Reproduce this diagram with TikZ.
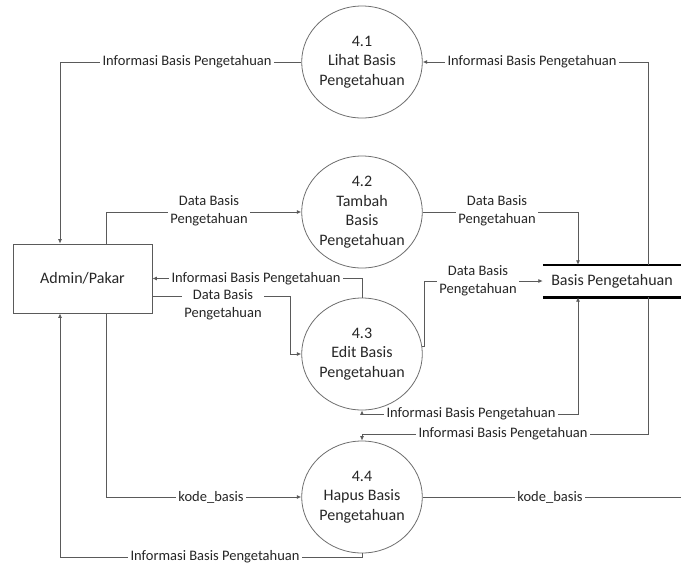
\documentclass[tikz,border=0pt]{standalone}
\usepackage{fontspec}
\setmainfont{Carlito}
\usetikzlibrary{arrows.meta,shapes.geometric}

\definecolor{linec}{HTML}{5A5A5A}
\definecolor{circc}{HTML}{6E6E6E}
\definecolor{textc}{HTML}{262626}

\tikzset{
  proc/.style={ellipse, draw=circc, line width=0.8pt, minimum width=112pt, minimum height=112pt,
    inner sep=0pt, align=center, text=textc, font=\fontsize{16}{19.5}\selectfont},
  entity/.style={rectangle, draw=linec, line width=0.8pt, minimum width=139pt, minimum height=69pt,
    inner sep=0pt, text=textc, font=\fontsize{16}{19.5}\selectfont},
  store/.style={rectangle, minimum width=138pt, minimum height=32pt, inner sep=0pt,
    text=textc, font=\fontsize{16}{19.5}\selectfont},
  bar/.style={line width=2.6pt, black},
  flow/.style={draw=linec, line width=0.8pt, -{Latex[length=4.5pt,width=4pt]}},
  flowboth/.style={draw=linec, line width=0.8pt, {Latex[length=4.5pt,width=4pt]}-{Latex[length=4.5pt,width=4pt]}},
  plain/.style={draw=linec, line width=0.8pt},
  lbl/.style={fill=white, inner xsep=2.5pt, inner ysep=0.5pt, align=center, text=textc,
    font=\fontsize{14.5}{17.5}\selectfont}
}

\begin{document}
\begin{tikzpicture}[x=1pt, y=-1pt]
\useasboundingbox (0,0) rectangle (681,566);

% processes
\node[proc] (c41) at (362,62)  {4.1\\Lihat Basis\\Pengetahuan};
\node[proc] (c42) at (362,212) {4.2\\Tambah\\Basis\\Pengetahuan};
\node[proc] (c43) at (362,354) {4.3\\Edit Basis\\Pengetahuan};
\node[proc] (c44) at (362,497) {4.4\\Hapus Basis\\Pengetahuan};

% external entity
\node[entity] (admin) at (82.5,278.5) {Admin/Pakar};

% data store
\node[store] (store) at (612,281) {Basis Pengetahuan};
\draw[bar] (store.north west) -- (store.north east);
\draw[bar] (store.south west) -- (store.south east);

% routing points
\coordinate (k3) at (424,281);
\coordinate (j3) at (290,354);
\coordinate (b3) at (578,414);
\coordinate (b4) at (648,434);
\coordinate (b5) at (362,557);
\coordinate (out) at (681,497);

% flows
\draw[flow] (c41.west) -| ([xshift=-22.5pt]admin.north);
\draw[flow] ([xshift=36pt]store.north) |- (c41.east);
\draw[flow] ([xshift=23.5pt]admin.north) |- (c42.west);
\draw[flow] (c42.east) -| ([xshift=-34pt]store.north);
\draw[flow] (c43.north) |- (admin.east);
\draw[flow] ([yshift=-17.5pt]admin.east) -| (j3) -- (c43.west);
\draw[flow] (c43.7) -| (k3) -- (store.west);
\draw[flowboth] ([xshift=-34pt]store.south) -- (b3) -| (c43.south);
\draw[flow] ([xshift=36pt]store.south) -- (b4) -| (c44.north);
\draw[flow] ([xshift=23.5pt]admin.south) |- (c44.west);
\draw[plain] (c44.east) -- (out);
\draw[flow] (c44.south) -- (b5) -| ([xshift=-22.5pt]admin.south);

% flow labels
\node[lbl] (l1)  at (187,62)  {Informasi Basis Pengetahuan};
\node[lbl] (l2)  at (532,62)  {Informasi Basis Pengetahuan};
\node[lbl] (l3)  at (209,211) {Data Basis\\Pengetahuan};
\node[lbl] (l4)  at (497,211) {Data Basis\\Pengetahuan};
\node[lbl] (l5)  at (256,279) {Informasi Basis Pengetahuan};
\node[lbl] (l6)  at (223,305) {Data Basis\\Pengetahuan};
\node[lbl] (l7)  at (478,281) {Data Basis\\Pengetahuan};
\node[lbl] (l8)  at (471,414) {Informasi Basis Pengetahuan};
\node[lbl] (l9)  at (503,434) {Informasi Basis Pengetahuan};
\node[lbl] (l10) at (211,497) {kode\_basis};
\node[lbl] (l11) at (550,497) {kode\_basis};
\node[lbl] (l12) at (215,557) {Informasi Basis Pengetahuan};
\end{tikzpicture}
\end{document}
